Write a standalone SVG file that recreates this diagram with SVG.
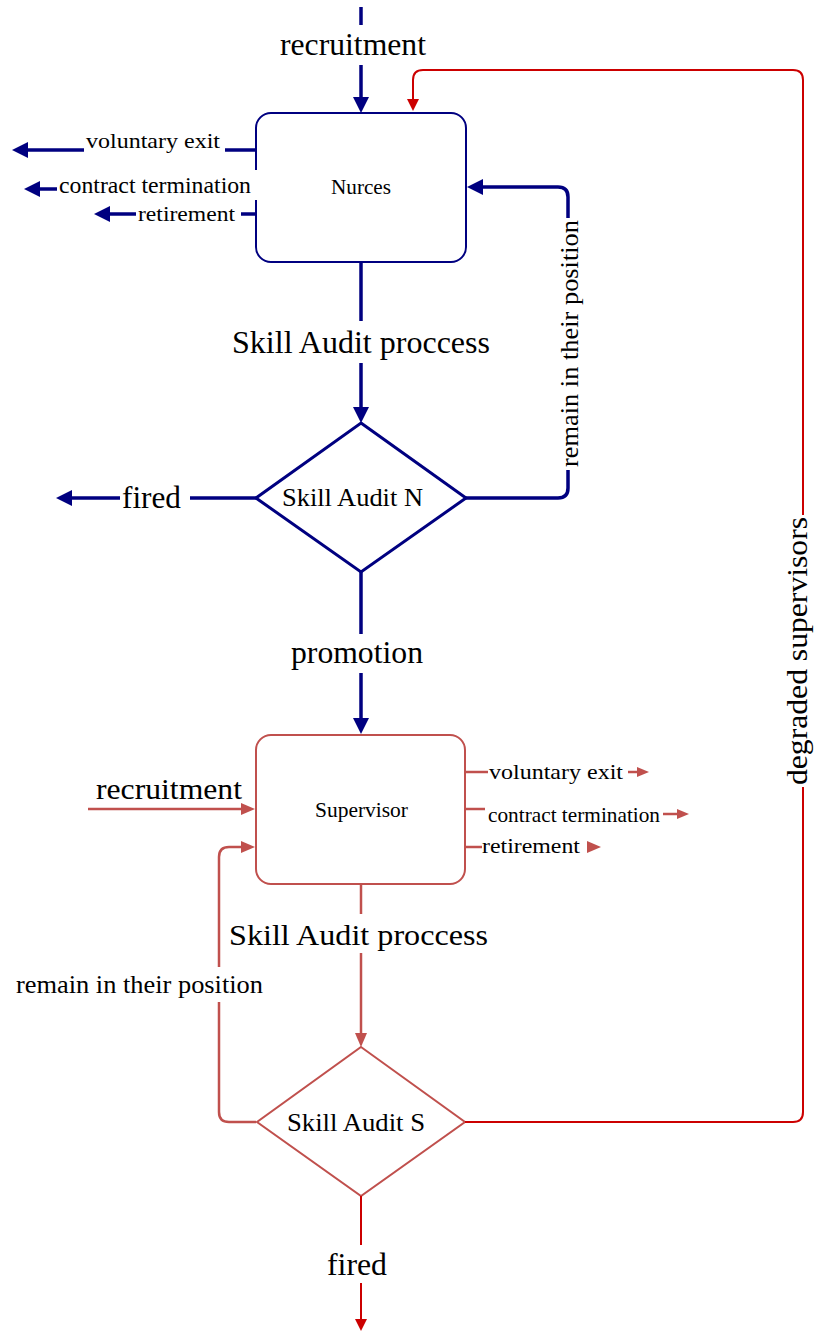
<svg xmlns="http://www.w3.org/2000/svg" width="818" height="1332" viewBox="0 0 818 1332">
<style>
  text { font-family: "Liberation Serif", "Times New Roman", serif; fill: #000; }
  .node-n { fill: #fff; stroke: #000080; stroke-width: 2; }
  .dia-n { fill: #fff; stroke: #000080; stroke-width: 3; stroke-linejoin: miter; }
  .node-s { fill: #fff; stroke: #c0504d; stroke-width: 2; }
  .dia-s { fill: #fff; stroke: #c0504d; stroke-width: 2; }
  .cn { fill: none; stroke: #000080; stroke-width: 3.5; }
  .cs { fill: none; stroke: #c0504d; stroke-width: 2.5; }
  .cr { fill: none; stroke: #cc0000; stroke-width: 2; }
  .bg { fill: #fff; stroke: none; }
</style>
<defs>
  <marker id="aN" viewBox="0 0 16 16" refX="0" refY="8" markerWidth="16" markerHeight="16" markerUnits="userSpaceOnUse" orient="auto"><path d="M0,0 L16,8 L0,16 z" fill="#000080"/></marker>
  <marker id="aS" viewBox="0 0 14 12" refX="0" refY="6" markerWidth="14" markerHeight="12" markerUnits="userSpaceOnUse" orient="auto"><path d="M0,0 L14,6 L0,12 z" fill="#c0504d"/></marker>
  <marker id="aE" viewBox="0 0 12 10" refX="0" refY="5" markerWidth="12" markerHeight="10" markerUnits="userSpaceOnUse" orient="auto"><path d="M0,0 L12,5 L0,10 z" fill="#c0504d"/></marker>
  <marker id="aR" viewBox="0 0 12 12" refX="0" refY="6" markerWidth="12" markerHeight="12" markerUnits="userSpaceOnUse" orient="auto"><path d="M0,0 L12,6 L0,12 z" fill="#cc0000"/></marker>
</defs>
<rect width="818" height="1332" fill="#fff"/>

<g id="node-nurces">
  <rect class="node-n" x="256" y="113" width="210" height="149" rx="15"/>
  <text x="361" y="194" font-size="21" text-anchor="middle" textLength="60" lengthAdjust="spacingAndGlyphs">Nurces</text>
</g>
<g id="node-skill-audit-n">
  <polygon class="dia-n" points="361,423 466,498 361,572 256,498"/>
  <text x="352.5" y="506" font-size="25" text-anchor="middle" textLength="141" lengthAdjust="spacingAndGlyphs">Skill Audit N</text>
</g>
<g id="node-supervisor">
  <rect class="node-s" x="256" y="735" width="209" height="149" rx="15"/>
  <text x="361.5" y="817" font-size="21" text-anchor="middle" textLength="93" lengthAdjust="spacingAndGlyphs">Supervisor</text>
</g>
<g id="node-skill-audit-s">
  <polygon class="dia-s" points="361,1047 465,1122 361,1196 257,1122"/>
  <text x="356" y="1131" font-size="26" text-anchor="middle" textLength="138" lengthAdjust="spacingAndGlyphs">Skill Audit S</text>
</g>

<g id="connectors">
  <!-- navy -->
  <path class="cn" d="M361,7 V97" marker-end="url(#aN)"/>
  <path class="cn" d="M256,150 H28" marker-end="url(#aN)"/>
  <path class="cn" d="M256,189 H40" marker-end="url(#aN)"/>
  <path class="cn" d="M256,214 H110" marker-end="url(#aN)"/>
  <path class="cn" d="M361,262 V407" marker-end="url(#aN)"/>
  <path class="cn" d="M256,498 H72" marker-end="url(#aN)"/>
  <path class="cn" d="M361,572 V718" marker-end="url(#aN)"/>
  <path class="cn" d="M466,498 H558 Q568,498 568,488 V197 Q568,187 558,187 H483" marker-end="url(#aN)"/>
  <!-- supervisor red -->
  <path class="cs" d="M88,809 H241" marker-end="url(#aS)"/>
  <path class="cs" d="M361,884 V1033" marker-end="url(#aS)"/>
  <path class="cs" d="M256,1122 H229 Q219,1122 219,1112 V857 Q219,847 229,847 H241" marker-end="url(#aS)"/>
  <path class="cs" d="M465,772 H488"/>
  <path class="cs" d="M628,772 H637" marker-end="url(#aE)"/>
  <path class="cs" d="M465,809 H485"/>
  <path class="cs" d="M663,814 H677" marker-end="url(#aE)"/>
  <path class="cs" d="M465,847 H482"/>
  <polygon points="587,841 601,847 587,853" fill="#c0504d"/>
  <!-- bright red -->
  <path class="cr" d="M465,1122 H793 Q803,1122 803,1112 V80 Q803,70 793,70 H423 Q413,70 413,80 V99" marker-end="url(#aR)"/>
  <path class="cr" d="M361,1196 V1319" marker-end="url(#aR)"/>

  <!-- labels -->
  <rect class="bg" x="276" y="25" width="154" height="40"/>
  <text x="353" y="55" font-size="32" text-anchor="middle" textLength="146" lengthAdjust="spacingAndGlyphs">recruitment</text>

  <rect class="bg" x="84" y="132" width="141" height="28"/>
  <text x="86" y="148" font-size="22" textLength="134" lengthAdjust="spacingAndGlyphs">voluntary exit</text>
  <rect class="bg" x="57" y="170" width="201" height="30"/>
  <text x="59" y="193" font-size="24" textLength="192" lengthAdjust="spacingAndGlyphs">contract termination</text>
  <rect class="bg" x="136" y="203" width="105" height="22"/>
  <text x="138" y="221" font-size="22" textLength="97" lengthAdjust="spacingAndGlyphs">retirement</text>

  <rect class="bg" x="228" y="321" width="266" height="42"/>
  <text x="361" y="353" font-size="32" text-anchor="middle" textLength="258" lengthAdjust="spacingAndGlyphs">Skill Audit proccess</text>

  <rect class="bg" x="120" y="480" width="70" height="36"/>
  <text x="122" y="508" font-size="32" textLength="59" lengthAdjust="spacingAndGlyphs">fired</text>

  <rect class="bg" x="288" y="634" width="140" height="39"/>
  <text x="357" y="663" font-size="32" text-anchor="middle" textLength="132" lengthAdjust="spacingAndGlyphs">promotion</text>

  <rect class="bg" x="556" y="218" width="30" height="252"/>
  <text transform="translate(578,343.5) rotate(-90)" font-size="26" text-anchor="middle" textLength="247" lengthAdjust="spacingAndGlyphs">remain in their position</text>

  <text x="169" y="799" font-size="30" text-anchor="middle" textLength="146" lengthAdjust="spacingAndGlyphs">recruitment</text>

  <text x="489" y="779" font-size="22" textLength="134" lengthAdjust="spacingAndGlyphs">voluntary exit</text>
  <text x="488" y="822" font-size="21" textLength="172" lengthAdjust="spacingAndGlyphs">contract termination</text>
  <text x="482" y="853" font-size="22" textLength="98" lengthAdjust="spacingAndGlyphs">retirement</text>

  <rect class="bg" x="226" y="914" width="266" height="39"/>
  <text x="358.5" y="945" font-size="30" text-anchor="middle" textLength="259" lengthAdjust="spacingAndGlyphs">Skill Audit proccess</text>

  <rect class="bg" x="14" y="967" width="252" height="35"/>
  <text x="16" y="993" font-size="25" textLength="247" lengthAdjust="spacingAndGlyphs">remain in their position</text>

  <rect class="bg" x="325" y="1245" width="66" height="38"/>
  <text x="357" y="1275" font-size="32" text-anchor="middle" textLength="60" lengthAdjust="spacingAndGlyphs">fired</text>

  <rect class="bg" x="786" y="515" width="30" height="272"/>
  <text transform="translate(807,651) rotate(-90)" font-size="30" text-anchor="middle" textLength="268" lengthAdjust="spacingAndGlyphs">degraded supervisors</text>
</g>
</svg>
